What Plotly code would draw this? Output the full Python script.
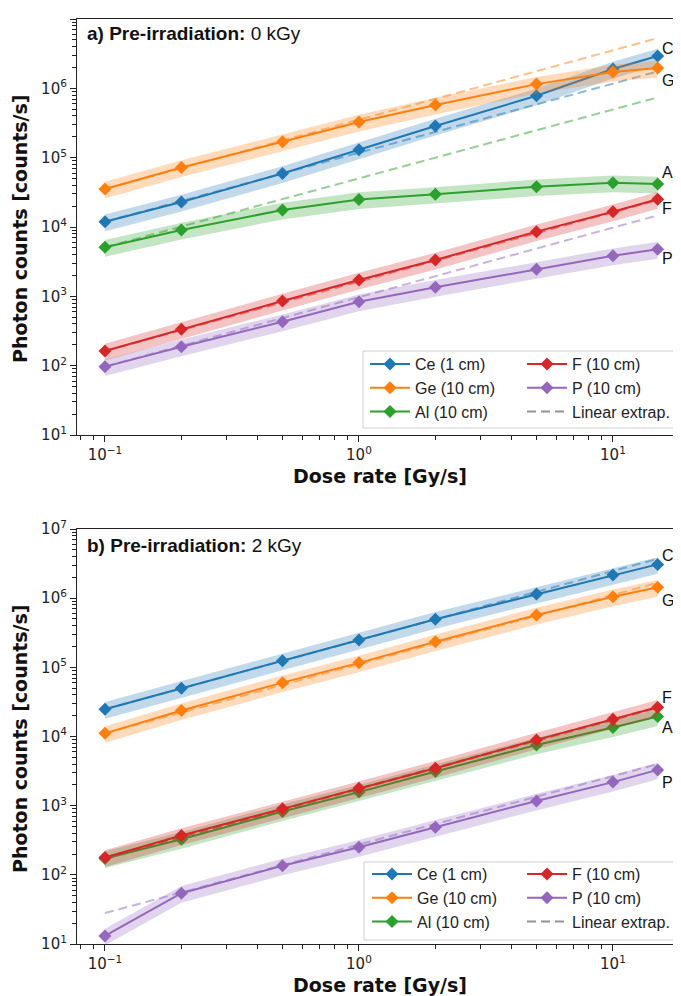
import math
import plotly.graph_objects as go

# ---------------- data ----------------
dose = [0.1, 0.2, 0.5, 1, 2, 5, 10, 15]

# panel a) pre-irradiation 0 kGy
ce_a = [1.19e4, 2.30e4, 5.9e4, 1.30e5, 2.86e5, 7.8e5, 1.90e6, 2.93e6]
ge_a = [3.53e4, 7.2e4, 1.70e5, 3.27e5, 5.75e5, 1.15e6, 1.72e6, 1.96e6]
al_a = [5.1e3, 9.05e3, 1.76e4, 2.50e4, 2.96e4, 3.82e4, 4.36e4, 4.17e4]
f_a = [163, 334, 857, 1.72e3, 3.34e3, 8.57e3, 1.66e4, 2.51e4]
p_a = [96.8, 188, 430, 837, 1.35e3, 2.45e3, 3.85e3, 4.77e3]

# panel b) pre-irradiation 2 kGy
ce_b = [2.48e4, 4.99e4, 1.25e5, 2.49e5, 4.95e5, 1.15e6, 2.16e6, 3.08e6]
ge_b = [1.11e4, 2.37e4, 6.01e4, 1.16e5, 2.35e5, 5.72e5, 1.05e6, 1.44e6]
al_b = [172, 327, 822, 1.57e3, 3.11e3, 7.56e3, 1.35e4, 1.94e4]
f_b = [178, 370, 899, 1.79e3, 3.48e3, 8.93e3, 1.78e4, 2.65e4]
p_b = [13.1, 54.3, 135, 251, 489, 1.17e3, 2.19e3, 3.29e3]

# linear extrapolation lines (end points)
extrap_x = [0.1, 15]
ce_a_lin = [1.19e4, 1.75e6]
ge_a_lin = [3.53e4, 5.3e6]
al_a_lin = [5.1e3, 7.4e5]
f_a_lin = [163, 2.45e4]
p_a_lin = [96.8, 1.47e4]
ce_b_lin = [2.48e4, 3.7e6]
ge_b_lin = [1.11e4, 1.67e6]
al_b_lin = [172, 2.58e4]
f_b_lin = [178, 2.67e4]
p_b_lin = [28, 4.0e3]

names = ["Ce (1 cm)", "Ge (10 cm)", "Al (10 cm)", "F (10 cm)", "P (10 cm)"]
short = ["Ce", "Ge", "Al", "F", "P"]
extrap_name = "Linear extrap."
band_rel = 0.27  # relative uncertainty of the shaded band

colors = ["#1f77b4", "#ff7f0e", "#2ca02c", "#d62728", "#9467bd"]
rgb = [(31, 119, 180), (255, 127, 14), (44, 160, 44), (214, 39, 40), (148, 103, 189)]

panels = [
    dict(series=[ce_a, ge_a, al_a, f_a, p_a],
         lin=[ce_a_lin, ge_a_lin, al_a_lin, f_a_lin, p_a_lin],
         xa="x", ya="y", legends=("legend", "legend2"),
         label_shift=[7, -12, 12, -9, -9],
         title="<b>a) Pre-irradiation:</b> 0 kGy"),
    dict(series=[ce_b, ge_b, al_b, f_b, p_b],
         lin=[ce_b_lin, ge_b_lin, al_b_lin, f_b_lin, p_b_lin],
         xa="x2", ya="y2", legends=("legend3", "legend4"),
         label_shift=[9, -13, -11, 10, -13],
         title="<b>b) Pre-irradiation:</b> 2 kGy"),
]

fig = go.Figure()

for pi, pan in enumerate(panels):
    leg1, leg2 = pan["legends"]
    for i, vals in enumerate(pan["series"]):
        r, g, b = rgb[i]
        upper = [v * (1 + band_rel) for v in vals]
        lower = [v * (1 - band_rel) for v in vals]
        fig.add_trace(go.Scatter(
            x=dose + dose[::-1], y=upper + lower[::-1],
            fill="toself", fillcolor=f"rgba({r},{g},{b},0.28)",
            line=dict(width=0), mode="lines", hoverinfo="skip",
            showlegend=False, xaxis=pan["xa"], yaxis=pan["ya"]))
        fig.add_trace(go.Scatter(
            x=extrap_x, y=pan["lin"][i], mode="lines",
            line=dict(color=f"rgba({r},{g},{b},0.5)", width=2, dash="9px,5px"),
            showlegend=False, xaxis=pan["xa"], yaxis=pan["ya"]))
        fig.add_trace(go.Scatter(
            x=dose, y=vals, mode="lines+markers", name=names[i],
            line=dict(color=colors[i], width=2),
            marker=dict(symbol="diamond", size=10, color=colors[i]),
            legend=leg1 if i < 3 else leg2, legendgroup=f"g{pi}{i}",
            xaxis=pan["xa"], yaxis=pan["ya"]))
    # legend-only entry for the extrapolation
    fig.add_trace(go.Scatter(
        x=[None], y=[None], mode="lines", name=extrap_name,
        line=dict(color="rgba(128,128,128,0.85)", width=2, dash="9px,5px"),
        legend=leg2, legendgroup=f"g{pi}lin",
        xaxis=pan["xa"], yaxis=pan["ya"]))

# ---------------- layout ----------------
# the page places the figure 8px from the top-left corner of the window
OFF = 8
W, H = 681, 996 - OFF
ml = 77 - OFF
mr = W - (681 - OFF)
mt = 19 - OFF
mb = H - (944 - OFF)
pw, ph = W - ml - mr, H - mt - mb


def px(wx):
    return (wx - OFF - ml) / pw


def py(wy):
    return (H - mb - (wy - OFF)) / ph


tick_font = dict(family="DejaVu Sans", size=15, color="#222")
x_minor = [0.08, 0.09] + [k * 0.1 for k in range(2, 10)] + list(range(2, 10))
y_minor = [k * 10 ** e for e in range(1, 7) for k in range(2, 10)]

xcommon = dict(type="log", range=[-1.110, 1.268], showgrid=False, zeroline=False,
               showline=True, linecolor="#222", linewidth=1.2, mirror=True,
               ticks="outside", ticklen=6, tickwidth=1.2, tickcolor="#222",
               tickvals=[0.1, 1, 10],
               ticktext=["10<sup>\u22121</sup>", "10<sup>0</sup>", "10<sup>1</sup>"],
               tickfont=tick_font, automargin=False,
               minor=dict(tickvals=x_minor, ticks="outside", ticklen=3.5,
                          tickwidth=1, tickcolor="#222", showgrid=False))
ycommon = dict(type="log", range=[1, 7], showgrid=False, zeroline=False,
               showline=True, linecolor="#222", linewidth=1.2, mirror=False,
               ticks="outside", ticklen=6, tickwidth=1.2, tickcolor="#222",
               tickvals=[10 ** e for e in range(1, 8)],
               ticktext=[f"10<sup>{e}</sup>" for e in range(1, 8)],
               tickfont=tick_font, automargin=False,
               minor=dict(tickvals=y_minor, ticks="outside", ticklen=3.5,
                          tickwidth=1, tickcolor="#222", showgrid=False))

ya_dom = [py(435), 1.0]
yb_dom = [0.0, py(529)]

leg_common = dict(bgcolor="rgba(0,0,0,0)", borderwidth=0,
                  font=dict(family="Liberation Sans, Arial", size=16, color="#222"),
                  xanchor="left", yanchor="top", tracegroupgap=0,
                  orientation="v", itemwidth=40)

fig.update_layout(
    width=W, height=H, margin=dict(l=ml, r=mr, t=mt, b=mb),
    paper_bgcolor="white", plot_bgcolor="white",
    xaxis=dict(xcommon, domain=[0, 1], anchor="y"),
    yaxis=dict(ycommon, domain=ya_dom, anchor="x"),
    xaxis2=dict(xcommon, domain=[0, 1], anchor="y2"),
    yaxis2=dict(ycommon, domain=yb_dom, anchor="x2"),
    legend=dict(leg_common, x=px(365), y=py(347)),
    legend2=dict(leg_common, x=px(522), y=py(347)),
    legend3=dict(leg_common, x=px(367), y=py(857)),
    legend4=dict(leg_common, x=px(522), y=py(857)),
    showlegend=True,
)

shapes = []
annotations = []
boxes = [(363, 351, 678, 428), (364, 862, 680, 940)]
for (x0, y0, x1, y1) in boxes:
    shapes.append(dict(type="rect", xref="paper", yref="paper",
                       x0=px(x0), x1=px(x1), y0=py(y1), y1=py(y0),
                       line=dict(color="#cfcfcf", width=1),
                       fillcolor="rgba(255,255,255,0.85)", layer="above"))

title_y = [34, 545]
xlab_y = [476, 985]
ylab_c = [229, 739]
for pi, pan in enumerate(panels):
    annotations.append(dict(text=pan["title"], xref="paper", yref="paper",
                            x=px(85), y=py(title_y[pi]), xanchor="left", yanchor="middle",
                            showarrow=False,
                            font=dict(family="Liberation Sans, Arial", size=19, color="#111")))
    annotations.append(dict(text="<b>Dose rate [Gy/s]</b>", xref="paper", yref="paper",
                            x=px(380), y=py(xlab_y[pi]), xanchor="center", yanchor="middle",
                            showarrow=False,
                            font=dict(family="DejaVu Sans", size=19, color="#111")))
    annotations.append(dict(text="<b>Photon counts [counts/s]</b>", xref="paper", yref="paper",
                            x=px(20), y=py(ylab_c[pi]), xanchor="center", yanchor="middle",
                            textangle=-90, showarrow=False,
                            font=dict(family="DejaVu Sans", size=19, color="#111")))
    for i, vals in enumerate(pan["series"]):
        annotations.append(dict(text=short[i], xref=pan["xa"], yref=pan["ya"],
                                x=math.log10(dose[-1]), y=math.log10(vals[-1]),
                                xanchor="left", yanchor="middle", xshift=2,
                                yshift=pan["label_shift"][i], showarrow=False,
                                font=dict(family="Liberation Sans, Arial", size=16, color="#111")))

fig.update_layout(shapes=shapes, annotations=annotations)
fig.write_html("out.html")
